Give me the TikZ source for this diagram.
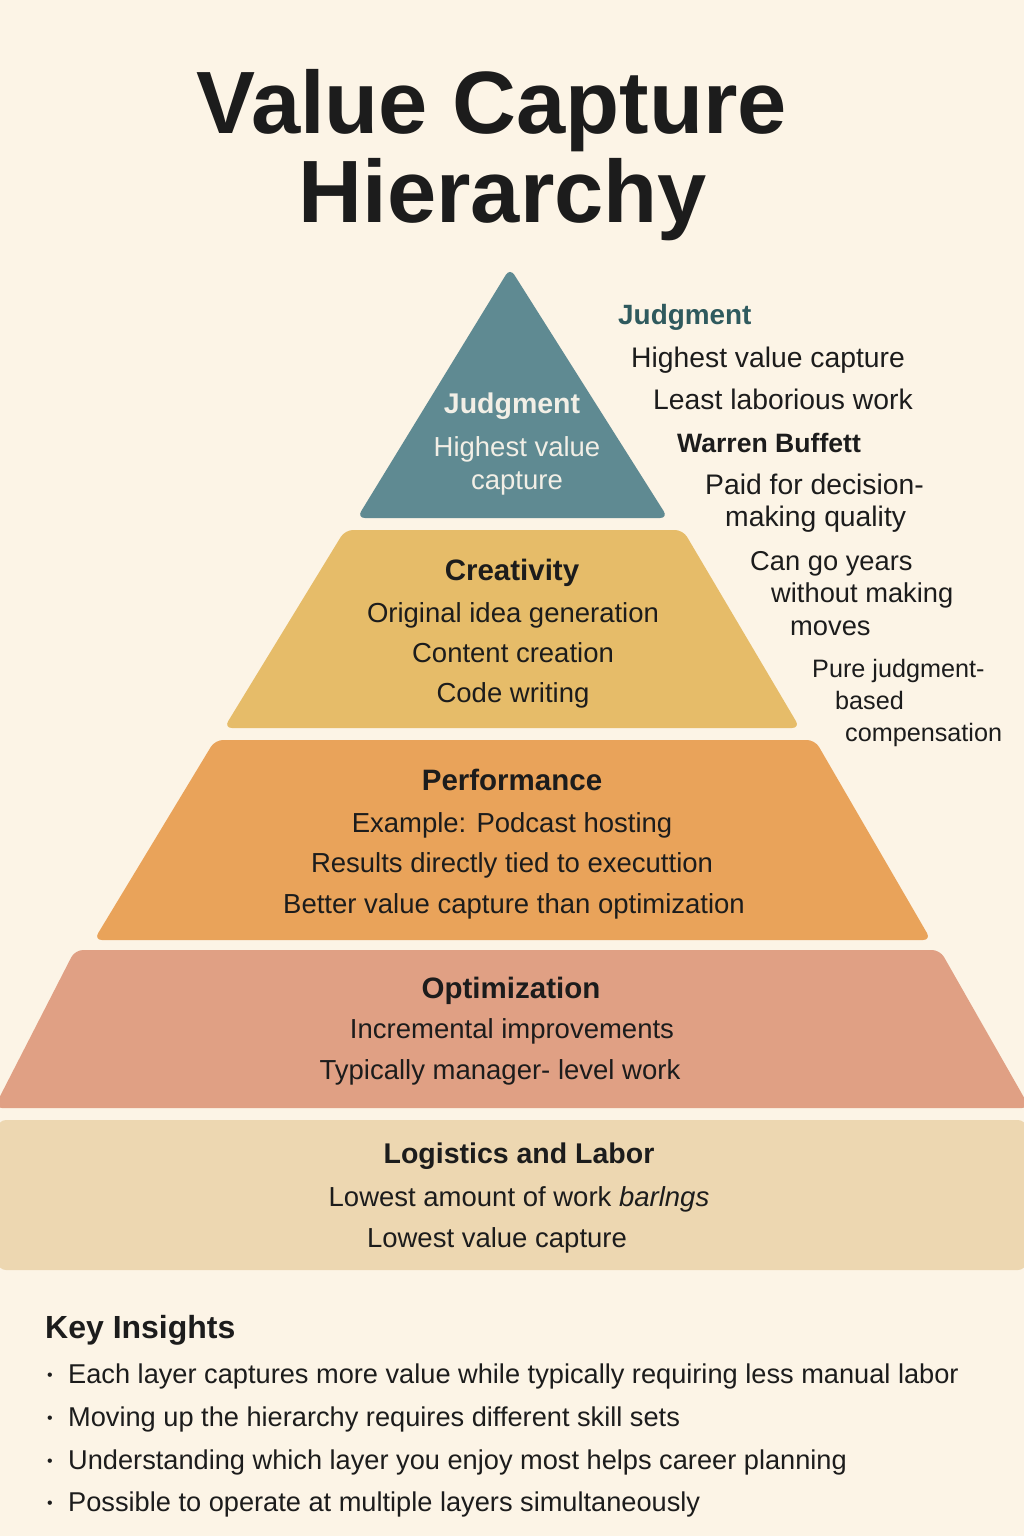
\documentclass[tikz,border=0pt]{standalone}
\usepackage{fontspec}
\setmainfont{Liberation Sans}
\definecolor{bg}{HTML}{FCF4E6}
\definecolor{ink}{HTML}{1C1C1C}
\definecolor{tealL}{HTML}{5F8A92}
\definecolor{tealT}{HTML}{2F5A5E}
\definecolor{creaC}{HTML}{E6BC69}
\definecolor{perfC}{HTML}{E9A35A}
\definecolor{optC}{HTML}{E0A084}
\definecolor{logC}{HTML}{EDD7B1}
\definecolor{paleT}{HTML}{F2EFE6}
\begin{document}
\begin{tikzpicture}[x=1pt,y=-1pt,
  body/.style={font=\fontsize{27.5}{30}\selectfont, text=ink, anchor=base, inner sep=0pt},
  head/.style={font=\bfseries\fontsize{29.5}{32}\selectfont, text=ink, anchor=base, inner sep=0pt},
  side/.style={font=\fontsize{28.3}{30}\selectfont, text=ink, anchor=base west, inner sep=0pt},
  sidesm/.style={side, font=\fontsize{27.3}{30}\selectfont},
  sidexs/.style={side, font=\fontsize{25.2}{30}\selectfont},
  bul/.style={font=\fontsize{27.2}{30}\selectfont, text=ink, anchor=base west, inner sep=0pt},
  layer/.style={rounded corners=8pt}
]
\fill[bg] (0,0) rectangle (1024,1536);
\useasboundingbox (0,0) rectangle (1024,1536);

% title
\node[font=\bfseries\fontsize{88.5}{92}\selectfont, text=ink, anchor=base, inner sep=0pt] (t1) at (492,133) {Value Capture};
\node[font=\bfseries\fontsize{88.5}{92}\selectfont, text=ink, anchor=base, inner sep=0pt] (t2) at (503,222) {Hierarchy};

% layers
\fill[tealL, layer] (510,268) -- (668,518) -- (357,518) -- cycle;
\fill[creaC, layer] (345,530) -- (683,530) -- (800,728) -- (224,728) -- cycle;
\fill[perfC, layer] (215,740) -- (815,740) -- (931,940) -- (94,940) -- cycle;
\fill[optC, layer] (75,950) -- (940,950) -- (1030,1108) -- (-6,1108) -- cycle;
\fill[logC, layer] (-2,1120) rectangle (1026,1270);

% judgment layer text
\node[head, font=\bfseries\fontsize{28.5}{32}\selectfont, text=paleT] (jh) at (512,413) {Judgment};
\node[body, text=paleT] (j1) at (517,456) {Highest value};
\node[body, text=paleT] (j2) at (517,489) {capture};

% creativity
\node[head] (ch) at (512,580) {Creativity};
\node[body] (c1) at (513,622) {Original idea generation};
\node[body] (c2) at (513,662) {Content creation};
\node[body] (c3) at (513,702) {Code writing};

% performance
\node[head] (ph) at (512,790) {Performance};
\node[body] (p1) at (512,832) {Example: Podcast hosting};
\node[body] (p2) at (512,872) {Results directly tied to executtion};
\node[body] (p3) at (514,913) {Better value capture than optimization};

% optimization
\node[head] (oh) at (511,998) {Optimization};
\node[body] (o1) at (512,1038) {Incremental improvements};
\node[body] (o2) at (500,1079) {Typically manager- level work};

% logistics
\node[head, font=\bfseries\fontsize{28.5}{32}\selectfont] (lh) at (519,1163) {Logistics and Labor};
\node[body] (l1) at (519,1206) {Lowest amount of work \textit{barlngs}};
\node[body] (l2) at (497,1247) {Lowest value capture};

% side notes
\node[side, font=\bfseries\fontsize{27.9}{30}\selectfont, text=tealT] (s0) at (618,324) {Judgment};
\node[side] (s1) at (631,367) {Highest value capture};
\node[side] (s2) at (653,409) {Least laborious work};
\node[side, font=\bfseries\fontsize{26.6}{30}\selectfont] (s3) at (677,452) {Warren Buffett};
\node[side] (s4) at (705,494) {Paid for decision-};
\node[side] (s5) at (725,526) {making quality};
\node[sidesm] (s6) at (750,570) {Can go years};
\node[sidesm] (s7) at (771,602) {without making};
\node[sidesm] (s8) at (790,635) {moves};
\node[sidexs] (s9) at (812,677) {Pure judgment-};
\node[sidexs] (s10) at (835,709) {based};
\node[sidexs] (s11) at (845,741) {compensation};

% key insights
\node[side, font=\bfseries\fontsize{32}{34}\selectfont] (kh) at (45,1338) {Key Insights};
\foreach \yy/\tx [count=\i] in {1383/Each layer captures more value while typically requiring less manual labor,
  1426/Moving up the hierarchy requires different skill sets,
  1469/Understanding which layer you enjoy most helps career planning,
  1511/Possible to operate at multiple layers simultaneously}{
  \node[bul] (b\i) at (68,\yy) {\tx};
  \node[bul] (d\i) at (47,\yy-3) {\fontsize{16}{20}\selectfont•};
}
\end{tikzpicture}
\end{document}
